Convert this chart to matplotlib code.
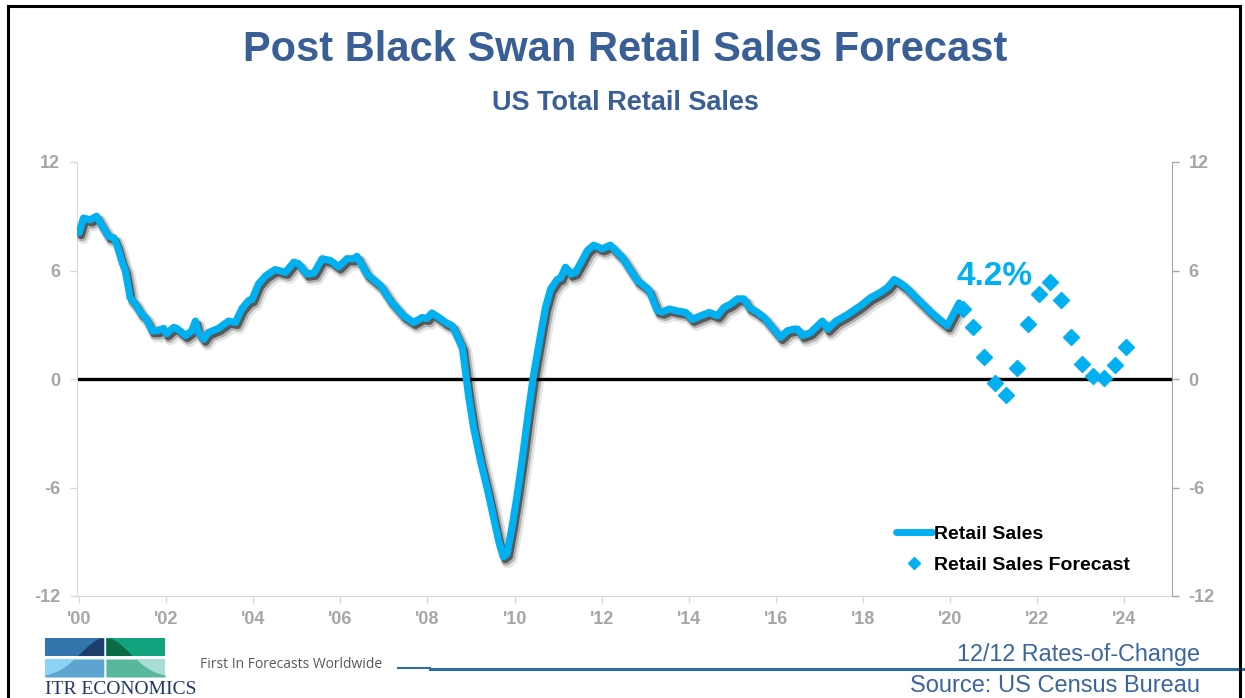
import numpy as np
import matplotlib.pyplot as plt
import matplotlib.patheffects as pe
from matplotlib.lines import Line2D
from matplotlib.patches import Rectangle

# 12/12 rate-of-change, US total retail sales (%)
actual_years = [
    2000.00, 2000.10, 2000.25, 2000.40, 2000.52, 2000.67, 2000.80, 2000.87, 2000.98,
    2001.06, 2001.17, 2001.29, 2001.40, 2001.52, 2001.60, 2001.67, 2001.79, 2001.94,
    2002.00, 2002.17, 2002.24, 2002.44, 2002.59, 2002.67, 2002.74, 2002.86, 2002.97,
    2003.20, 2003.43, 2003.59, 2003.74, 2003.89, 2003.97, 2004.12, 2004.28, 2004.50,
    2004.74, 2004.93, 2005.04, 2005.23, 2005.39, 2005.58, 2005.77, 2005.96, 2006.15,
    2006.30, 2006.38, 2006.61, 2006.92, 2007.15, 2007.45, 2007.68, 2007.88, 2007.99,
    2008.10, 2008.26, 2008.41, 2008.57, 2008.68, 2008.80, 2008.87, 2008.95, 2009.06,
    2009.22, 2009.37, 2009.52, 2009.64, 2009.74, 2009.83, 2009.95, 2010.06, 2010.18,
    2010.33, 2010.44, 2010.60, 2010.71, 2010.83, 2010.98, 2011.06, 2011.17, 2011.29,
    2011.40, 2011.55, 2011.67, 2011.82, 2012.01, 2012.20, 2012.32, 2012.47, 2012.67,
    2012.82, 2012.97, 2013.09, 2013.20, 2013.28, 2013.39, 2013.55, 2013.70, 2013.93,
    2014.08, 2014.28, 2014.47, 2014.66, 2014.81, 2014.97, 2015.12, 2015.27, 2015.39,
    2015.58, 2015.73, 2015.89, 2016.11, 2016.27, 2016.42, 2016.50, 2016.61, 2016.80,
    2016.88, 2017.07, 2017.19, 2017.38, 2017.65, 2017.95, 2018.18, 2018.41, 2018.57,
    2018.72, 2018.83, 2018.99, 2019.18, 2019.37, 2019.56, 2019.75, 2019.94, 2020.06,
    2020.21,
]
actual_vals = [
    8.1, 8.9, 8.8, 9.0, 8.5, 7.9, 7.8, 7.4, 6.5,
    6.0, 4.5, 4.15, 3.7, 3.4, 3.05, 2.67, 2.67, 2.8,
    2.5, 2.85, 2.8, 2.4, 2.67, 3.2, 2.57, 2.2, 2.57,
    2.8, 3.2, 3.13, 3.9, 4.33, 4.4, 5.26, 5.7, 6.05,
    5.9, 6.46, 6.37, 5.8, 5.85, 6.65, 6.55, 6.2, 6.65,
    6.65, 6.78, 5.8, 5.17, 4.33, 3.5, 3.13, 3.4, 3.35,
    3.65, 3.4, 3.13, 2.94, 2.39, 1.74, 0.44, -1.04, -2.7,
    -4.56, -6.04, -7.7, -9.0, -9.83, -9.65, -8.07, -6.4, -4.37,
    -1.6, 0.26, 2.48, 3.96, 4.98, 5.5, 5.6, 6.18, 5.8,
    5.9, 6.55, 7.1, 7.4, 7.2, 7.4, 7.1, 6.74, 6.0,
    5.44, 5.17, 4.9, 4.24, 3.78, 3.7, 3.87, 3.78, 3.68,
    3.3, 3.5, 3.68, 3.5, 3.96, 4.15, 4.43, 4.43, 3.96,
    3.68, 3.4, 2.94, 2.3, 2.67, 2.76, 2.76, 2.4, 2.57,
    2.76, 3.2, 2.76, 3.2, 3.57, 4.06, 4.5, 4.8, 5.07,
    5.5, 5.35, 5.07, 4.6, 4.15, 3.7, 3.3, 2.94, 3.5,
    4.2,
]

# quarterly forecast
forecast_years = [
    2020.29, 2020.54, 2020.79, 2021.04, 2021.29, 2021.54, 2021.79, 2022.04,
    2022.29, 2022.54, 2022.79, 2023.04, 2023.29, 2023.54, 2023.79, 2024.04,
]
forecast_vals = [
    3.87, 2.85, 1.19, -0.2, -0.89, 0.63, 3.04, 4.7,
    5.35, 4.37, 2.35, 0.85, 0.17, 0.07, 0.78, 1.78,
]

year_ticks = list(range(2000, 2025, 2))
year_labels = ["'%02d" % (y % 100) for y in year_ticks]
y_ticks = [-12, -6, 0, 6, 12]

CYAN = '#00B0F0'
TICK_GRAY = '#A6A6A6'
TITLE_BLUE = '#3A5F96'
W, H = 1245, 698

plt.rcParams['axes.unicode_minus'] = False

fig = plt.figure(figsize=(W / 100, H / 100), dpi=100)
ax = fig.add_axes([77 / W, 1 - 596 / H, (1172 - 77) / W, 434 / H])

ax.axhline(0, color='black', lw=2.4, zorder=2)

shadow = [
    pe.SimpleLineShadow(offset=(1.5, -2.2), shadow_color='black', alpha=0.5),
    pe.SimpleLineShadow(offset=(2.2, -3.0), shadow_color='black', alpha=0.22, linewidth=7),
    pe.SimpleLineShadow(offset=(3.0, -3.8), shadow_color='black', alpha=0.10, linewidth=9),
    pe.Normal(),
]
ax.plot(actual_years, actual_vals, color=CYAN, lw=5.2, solid_joinstyle='round',
        solid_capstyle='round', path_effects=shadow, zorder=3)
ax.plot(forecast_years, forecast_vals, ls='none', marker='D', ms=8.5,
        color=CYAN, mec=CYAN, zorder=4)

ax.text(2021.03, 5.67, '%.1f%%' % actual_vals[-1], color=CYAN, fontsize=24,
        fontweight='bold', family='Liberation Sans', ha='center', va='center')

ax.set_xlim(1999.95, 2025.1)
ax.set_ylim(-12, 12)
ax.set_xticks(year_ticks)
ax.set_xticklabels(year_labels)
ax.set_yticks(y_ticks)

for lbl in ax.get_xticklabels() + ax.get_yticklabels():
    lbl.set_family('Liberation Sans')
    lbl.set_fontweight('bold')
ax.tick_params(axis='both', colors='#D9D9D9', labelcolor=TICK_GRAY, labelsize=13,
               length=5, width=1)
ax.tick_params(axis='x', pad=6)
ax.tick_params(axis='y', pad=7)
ax.spines['top'].set_visible(False)
ax.spines['right'].set_visible(False)
for s in ('left', 'bottom'):
    ax.spines[s].set_color('#D9D9D9')

ax2 = ax.twinx()
ax2.set_ylim(-12, 12)
ax2.set_yticks(y_ticks)
for lbl in ax2.get_yticklabels():
    lbl.set_family('Liberation Sans')
    lbl.set_fontweight('bold')
ax2.tick_params(axis='y', colors='#A6A6A6', labelcolor=TICK_GRAY, labelsize=13,
                length=5, width=1, pad=7)
for s in ('top', 'left', 'bottom'):
    ax2.spines[s].set_visible(False)
ax2.spines['right'].set_color('#A6A6A6')

handles = [
    Line2D([], [], color=CYAN, lw=5, solid_capstyle='round'),
    Line2D([], [], ls='none', marker='D', ms=6, color=CYAN),
]
ax.legend(handles, ['Retail Sales', 'Retail Sales Forecast'], loc='upper left',
          bbox_to_anchor=(0.739, 0.185), frameon=False, borderpad=0,
          handlelength=1.85, handletextpad=0.1, labelspacing=0.7,
          prop={'family': 'Liberation Sans', 'weight': 'bold', 'size': 14})

# titles
title_font = ['Liberation Sans Narrow', 'Liberation Sans']
fig.text(625 / W, 1 - 50 / H, 'Post Black Swan Retail Sales Forecast', ha='center',
         va='center', fontsize=30, fontweight='bold', color=TITLE_BLUE, family=title_font)
fig.text(625 / W, 1 - 103 / H, 'US Total Retail Sales', ha='center', va='center',
         fontsize=19.5, fontweight='bold', color=TITLE_BLUE, family=title_font)

# footer
fig.text(1200 / W, 1 - 655 / H, '12/12 Rates-of-Change', ha='right', va='center',
         fontsize=16.8, color='#3B64A0', family='Liberation Sans')
fig.text(1200 / W, 1 - 686 / H, 'Source: US Census Bureau', ha='right', va='center',
         fontsize=17, color='#3B64A0', family='Liberation Sans')
fig.text(200 / W, 1 - 665 / H, 'First In Forecasts Worldwide', ha='left', va='center',
         fontsize=10, color='#595959', family='Open Sans')
fig.add_artist(Line2D([398 / W, 430 / W], [1 - 668 / H] * 2, color='#2E6DA4', lw=1.5))
fig.add_artist(Line2D([430 / W, 1], [1 - 669 / H] * 2, color='#2E6DA4', lw=2.2))
fig.text(45 / W, 1 - 689 / H, 'ITR ECONOMICS', ha='left', va='center',
         fontsize=14, color='#1F3864', family='Liberation Serif')

# logo: four tiles split by a bell curve
lax = fig.add_axes([45 / W, 1 - 677 / H, 120 / W, 39 / H])
lax.set_xlim(0, 1)
lax.set_ylim(0, 1)
lax.axis('off')
cells = [
    # x0, x1, y0, y1, base, under-curve
    (0.0, 0.49, 0.55, 1.0, '#3274AC', '#1D3D6C'),
    (0.51, 1.0, 0.55, 1.0, '#12A47E', '#0B6A46'),
    (0.0, 0.49, 0.0, 0.45, '#8DD3F5', '#5FA3D1'),
    (0.51, 1.0, 0.0, 0.45, '#A9DED7', '#58B89D'),
]
for x0, x1, y0, y1, base, inner in cells:
    lax.add_patch(Rectangle((x0, y0), x1 - x0, y1 - y0, color=base, lw=0))
    xs = np.linspace(x0, x1, 120)
    bell = 1.02 * np.exp(-((xs - 0.5) / 0.29) ** 2)
    top = np.clip(bell, y0, y1)
    lax.fill_between(xs, y0, top, where=bell > y0, color=inner, lw=0)

# slide frame
for xs_, ys_ in [([8 / W, 1240 / W], [1 - 6 / H] * 2),
                 ([8 / W] * 2, [0, 1 - 6 / H]),
                 ([1240 / W] * 2, [0, 1 - 6 / H])]:
    fig.add_artist(Line2D(xs_, ys_, color='black', lw=2.2))

fig.savefig('out.png', dpi=100)
